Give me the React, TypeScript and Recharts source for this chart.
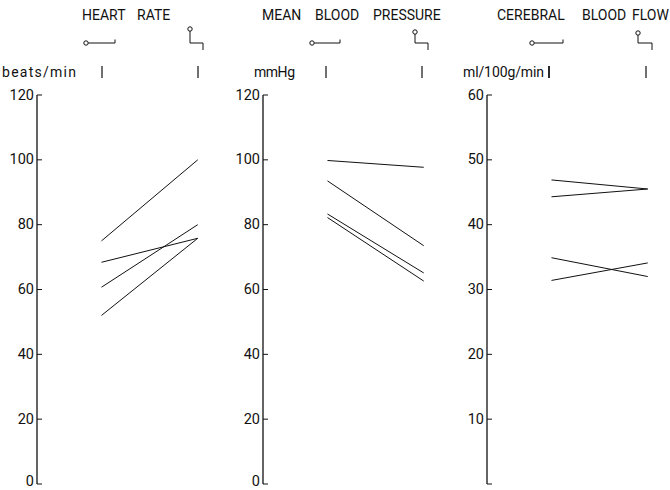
import { LineChart, Line, XAxis, YAxis } from "recharts";

// x positions: 1 = horizontal, 2 = tilted
const positions = [1, 2];

// heart rate, beats/min
const hrHorizontal = [75, 68.4, 60.7, 52];
const hrTilted = [100, 75.8, 80, 75.8];

// mean blood pressure, mmHg
const mbpHorizontal = [99.8, 93.5, 83.3, 82.2];
const mbpTilted = [97.7, 73.5, 65.1, 62.6];

// cerebral blood flow, ml/100g/min
const cbfHorizontal = [46.9, 44.3, 34.9, 31.4];
const cbfTilted = [45.5, 45.5, 32.0, 34.1];

const pressureTicks = [0, 20, 40, 60, 80, 100, 120];
const flowTicks = [0, 10, 20, 30, 40, 50, 60];

const FONT = "Roboto, 'DejaVu Sans', sans-serif";

function buildRows(before: number[], after: number[]) {
  return positions.map((p, i) => {
    const row: Record<string, number> = { pos: p };
    before.forEach((_, k) => {
      row["s" + k] = i === 0 ? before[k] : after[k];
    });
    return row;
  });
}

function AxisTick(props: any) {
  const { x, y, payload, hideZero } = props;
  const isZero = payload.value === 0;
  return (
    <g>
      <line x1={x} x2={x + 5} y1={y} y2={y} stroke="#111" strokeWidth={1} />
      {!(hideZero && isZero) && (
        <text
          x={x - 3}
          y={isZero ? y - 3 : y}
          textAnchor="end"
          dominantBaseline="central"
          fontSize={14.5}
          fontFamily={FONT}
          fill="#111"
        >
          {payload.value}
        </text>
      )}
    </g>
  );
}

function Panel({
  left,
  axisWidth,
  yMax,
  ticks,
  before,
  after,
  hideZero,
}: {
  left: number;
  axisWidth: number;
  yMax: number;
  ticks: number[];
  before: number[];
  after: number[];
  hideZero?: boolean;
}) {
  const rows = buildRows(before, after);
  return (
    <div style={{ position: "absolute", left, top: 0 }}>
      <LineChart
        width={axisWidth + 180}
        height={490}
        data={rows}
        margin={{ top: 95, right: 0, bottom: 6, left: 0 }}
      >
        <XAxis
          type="number"
          dataKey="pos"
          domain={[0.33, 2.2]}
          allowDataOverflow
          hide
        />
        <YAxis
          type="number"
          domain={[0, yMax]}
          ticks={ticks}
          width={axisWidth}
          tickSize={0}
          tickMargin={0}
          tickLine={false}
          axisLine={{ stroke: "#111", strokeWidth: 1.3 }}
          interval={0}
          tick={(p: any) => <AxisTick {...p} hideZero={hideZero} />}
        />
        {before.map((_, k) => (
          <Line
            key={k}
            type="linear"
            dataKey={"s" + k}
            stroke="#111"
            strokeWidth={1}
            dot={false}
            activeDot={false}
            isAnimationActive={false}
          />
        ))}
      </LineChart>
    </div>
  );
}

function FlatIcon({ cx, end }: { cx: number; end: number }) {
  return (
    <g stroke="#111" strokeWidth={1} fill="none">
      <circle cx={cx} cy={43} r={2.2} fill="#fff" />
      <line x1={cx + 2.2} x2={end} y1={43} y2={43} />
      <line x1={end} x2={end} y1={43} y2={39.5} />
    </g>
  );
}

function TiltIcon({ cx, cy, end }: { cx: number; cy: number; end: number }) {
  return (
    <g stroke="#111" strokeWidth={1} fill="none">
      <circle cx={cx} cy={cy} r={2.2} fill="#fff" />
      <polyline points={`${cx},${cy + 2.2} ${cx},43 ${end},43 ${end},50`} />
    </g>
  );
}

const headers = [
  { words: ["HEART", "RATE"], xs: [82, 137] },
  { words: ["MEAN", "BLOOD", "PRESSURE"], xs: [262, 315, 373] },
  { words: ["CEREBRAL", "BLOOD", "FLOW"], xs: [497, 582, 632] },
];

const units = [
  { text: "beats/min", x: 2, len: 74 },
  { text: "mmHg", x: 254, len: 41 },
  { text: "ml/100g/min", x: 463, len: 81 },
];

const markXs = [102, 198, 326, 422, 549, 646];

export default function App() {
  return (
    <div
      style={{
        position: "absolute",
        left: 0,
        top: 0,
        width: 670,
        height: 490,
        background: "#fff",
        overflow: "hidden",
      }}
    >
      <svg
        width={670}
        height={490}
        style={{ position: "absolute", left: 0, top: 0 }}
      >
        {headers.map((h, i) =>
          h.words.map((w, j) => (
            <text
              key={i + "-" + j}
              x={h.xs[j]}
              y={20}
              fontSize={14}
              fontFamily={FONT}
              fill="#111"
            >
              {w}
            </text>
          ))
        )}
        {units.map((u) => (
          <text
            key={u.text}
            x={u.x}
            y={77}
            fontSize={14}
            fontFamily={FONT}
            fill="#111"
            textLength={u.len}
            lengthAdjust="spacing"
          >
            {u.text}
          </text>
        ))}
        {markXs.map((x, i) => (
          <line
            key={i}
            x1={x}
            x2={x}
            y1={66}
            y2={78}
            stroke="#111"
            strokeWidth={i === 4 ? 1.8 : 1.2}
          />
        ))}
        <FlatIcon cx={86} end={115} />
        <FlatIcon cx={312} end={340} />
        <FlatIcon cx={532} end={563} />
        <TiltIcon cx={190} cy={29} end={203} />
        <TiltIcon cx={415} cy={32} end={428} />
        <TiltIcon cx={638} cy={33} end={652} />
      </svg>
      <Panel
        left={0}
        axisWidth={37}
        yMax={120}
        ticks={pressureTicks}
        before={hrHorizontal}
        after={hrTilted}
      />
      <Panel
        left={225}
        axisWidth={38}
        yMax={120}
        ticks={pressureTicks}
        before={mbpHorizontal}
        after={mbpTilted}
      />
      <Panel
        left={450}
        axisWidth={37}
        yMax={60}
        ticks={flowTicks}
        before={cbfHorizontal}
        after={cbfTilted}
        hideZero
      />
    </div>
  );
}
